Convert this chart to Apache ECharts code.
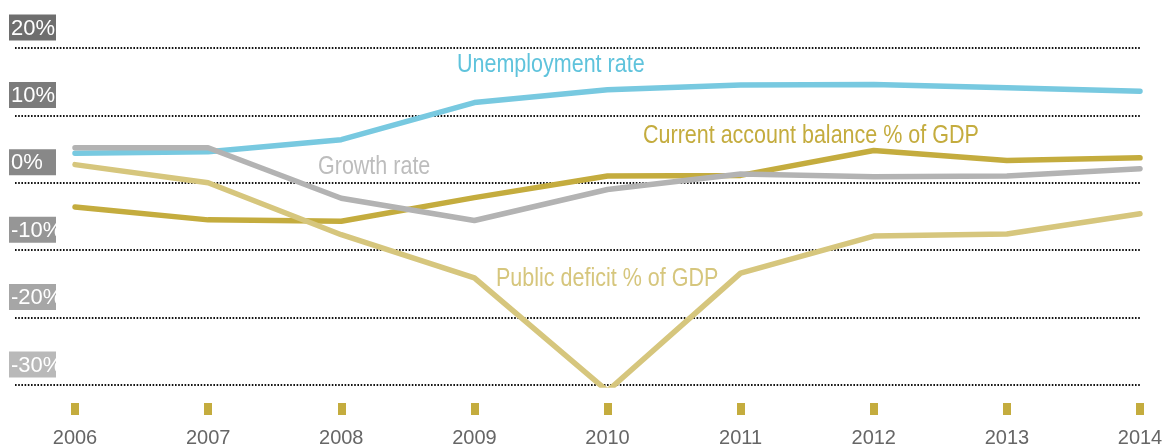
<!DOCTYPE html>
<html><head><meta charset="utf-8">
<script src="https://cdn.jsdelivr.net/npm/echarts@6/dist/echarts.min.js"></script>
<style>html,body{margin:0;padding:0;background:#fff}#c{width:1170px;height:448px}</style>
</head><body><div id="c"></div>
<script>
const years = ['2006','2007','2008','2009','2010','2011','2012','2013','2014'];
const unemployment   = [4.4, 4.6, 6.4, 11.9, 13.8, 14.5, 14.6, 14.1, 13.6];
const growth         = [5.2, 5.2, -2.3, -5.6, -1.0, 1.3, 0.9, 1.0, 2.1];
const currentAccount = [-3.6, -5.5, -5.7, -2.2, 1.0, 1.1, 4.8, 3.3, 3.7];
const publicDeficit  = [2.7, 0.0, -7.7, -14.1, -30.9, -13.4, -7.9, -7.6, -4.6];
const yTicks = [-30, -20, -10, 0, 10, 20];
const tickBoxColors = ['#b9b9b9', '#a6a6a6', '#969696', '#888888', '#7b7b7b', '#6e6e6e'];

const SANS = '"Liberation Sans", Arial, sans-serif';

const rich = {};
yTicks.forEach((t, i) => {
  rich['b' + i] = {
    backgroundColor: tickBoxColors[i], color: '#fff', width: 45,
    lineHeight: 29, fontSize: 22, fontFamily: SANS, padding: [3, 0, 1, 2], align: 'left'
  };
});

const chart = echarts.init(document.getElementById('c'), null, {renderer: 'canvas'});
const lineStyle = (c) => ({color: c, width: 5.5, cap: 'round', join: 'round'});
const mk = (name, data, color, z) => ({
  name, type: 'line', data, xAxisIndex: 0, yAxisIndex: 0, symbol: 'none',
  lineStyle: lineStyle(color), itemStyle: {color}, z, silent: true, animation: false
});
const lbl = (text, x, y, fill) => ({
  type: 'text', x, y, scaleX: 0.86, z: 10,
  style: {text, fill, font: '25px ' + SANS, textVerticalAlign: 'top', verticalAlign: 'top'}
});

chart.setOption({
  animation: false,
  grid: [
    {left: 75, right: 30, top: 48, bottom: 63},
    {left: 15, right: 29, top: 48, bottom: 63}
  ],
  xAxis: [
    {
      type: 'category', gridIndex: 0, data: years, boundaryGap: false, offset: 18,
      axisLine: {show: false, onZero: false},
      axisTick: {show: true, length: 12, lineStyle: {color: '#c4ac3e', width: 8}},
      axisLabel: {color: '#666', fontSize: 20, fontFamily: SANS, margin: 25}
    },
    {type: 'value', gridIndex: 1, show: false, min: 0, max: 1}
  ],
  yAxis: [
    {type: 'value', gridIndex: 0, min: -30, max: 20, interval: 10, show: false},
    {
      type: 'value', gridIndex: 1, min: -30, max: 20, interval: 10,
      axisLine: {show: false}, axisTick: {show: false},
      splitLine: {show: true, lineStyle: {color: '#111', width: 1.8, type: [1.6, 1.6]}},
      axisLabel: {
        align: 'left', verticalAlign: 'bottom', margin: 6, padding: [0, 0, 6, 0],
        formatter: (v) => '{b' + yTicks.indexOf(v) + '|' + v + '%}',
        rich
      }
    }
  ],
  series: [
    mk('Unemployment rate', unemployment, '#78c9e0', 2),
    mk('Current account balance % of GDP', currentAccount, '#c4ac3e', 3),
    mk('Growth rate', growth, '#b3b3b3', 4),
    mk('Public deficit % of GDP', publicDeficit, '#d6c67d', 5)
  ],
  graphic: [
    lbl('Unemployment rate', 457, 53, '#5fc3dc'),
    lbl('Growth rate', 318, 155, '#bdbdbd'),
    lbl('Current account balance % of GDP', 643, 124, '#c4ac3e'),
    lbl('Public deficit % of GDP', 496, 267, '#d6c67d')
  ]
});
</script></body></html>
